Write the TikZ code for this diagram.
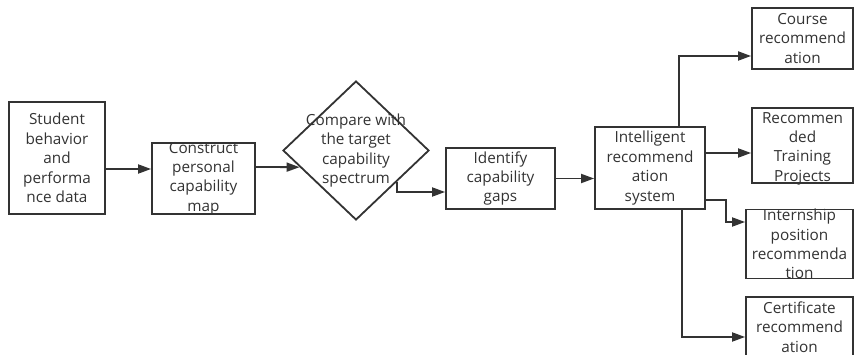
\documentclass[tikz,border=0pt]{standalone}
\usepackage{fontspec}
\setmainfont{Open Sans}
\usetikzlibrary{arrows.meta,shapes.geometric,calc}
\definecolor{inkgray}{HTML}{333333}
\tikzstyle{text-node}=[text=inkgray,align=center,font=\fontsize{15.3}{19.4}\selectfont,inner sep=0pt]
\tikzstyle{proc-node}=[draw=inkgray,rectangle,line width=1.8pt,fill=white,inner sep=0pt]
\tikzstyle{decision-node}=[draw=inkgray,diamond,line width=1.8pt,fill=white,inner sep=0pt,minimum width=146pt,minimum height=139pt]
\tikzstyle{black-line}=[draw=inkgray,line width=1.8pt]

\begin{document}
\begin{tikzpicture}[x=1pt,y=-1pt]
        \useasboundingbox (0,0) rectangle (855,355);
        \begin{scope}
            \node (data)[proc-node,minimum width=96pt,minimum height=112pt,label={[text-node]center:Student\\behavior\\and\\performa\\nce data}] at (57,158) {};
            \node (map)[proc-node,minimum width=103pt,minimum height=71pt,label={[text-node]center:Construct\\personal\\capability\\map}] at (203.5,178.5) {};
            \node (cmp)[decision-node,label={[text-node]center:Compare with\\the target\\capability\\spectrum}] at (356,150.5) {};
            \node (gaps)[proc-node,minimum width=109pt,minimum height=61pt,label={[text-node]center:Identify\\capability\\gaps}] at (500.5,178.5) {};
            \node (sys)[proc-node,minimum width=110pt,minimum height=82pt,label={[text-node]center:Intelligent\\recommend\\ation\\system}] at (650,168) {};
            \node (course)[proc-node,minimum width=101pt,minimum height=61pt,label={[text-node]center:Course\\recommend\\ation}] at (802.5,38.5) {};
            \node (proj)[proc-node,minimum width=101pt,minimum height=75pt,label={[text-node,yshift=-3pt]center:Recommen\\ded\\Training\\Projects}] at (802.5,145.5) {};
            \node (intern)[proc-node,minimum width=107pt,minimum height=69pt,label={[text-node]center:Internship\\position\\recommenda\\tion}] at (799.5,244) {};
            \node (cert)[proc-node,minimum width=107pt,minimum height=60pt,label={[text-node]center:Certificate\\recommend\\ation}] at (799.5,327) {};
        \end{scope}

        \begin{scope}[>={Triangle[length=13pt,width=9pt]}, every path/.style=black-line]
            \draw [->] ([yshift=-11pt]data.east) -- ([yshift=-11pt]data.east -| map.west);
            \draw [->] ([yshift=11.5pt]map.east) -- ($(cmp.west)!0.237!(cmp.south)$);
            \draw [->] ($(cmp.east)!0.45!(cmp.south)$) |- ([yshift=-13.5pt]gaps.west);
            \draw [->] (gaps.east) -- (gaps.east -| sys.west);
            \draw [->] ([xshift=29pt]sys.north) |- ([yshift=-17.5pt]course.west);
            \draw [->] ([yshift=15pt]sys.east) -- ([yshift=15pt]sys.east -| proj.west);
            \draw [->] ([yshift=-32pt]sys.east) -- ++(20,0) |- ([yshift=22pt]intern.west);
            \draw [->] ([xshift=32pt]sys.south) |- ([yshift=-10pt]cert.west);
        \end{scope}

    \end{tikzpicture}
\end{document}
